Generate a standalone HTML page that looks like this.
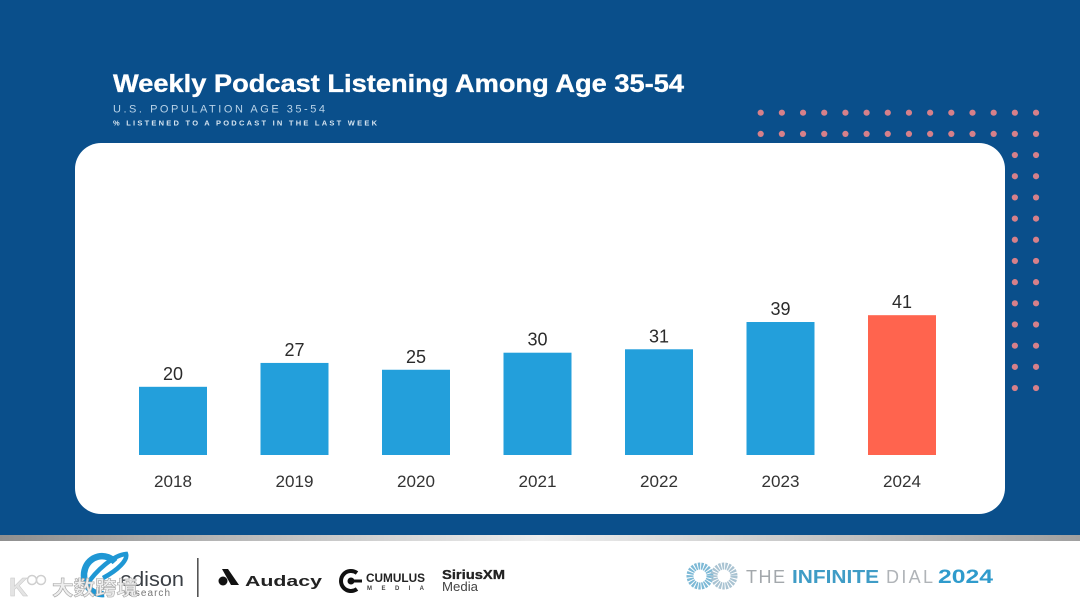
<!DOCTYPE html>
<html lang="en">
<head>
<meta charset="utf-8">
<title>Weekly Podcast Listening Among Age 35-54</title>
<style>
html,body{margin:0;padding:0;width:1080px;height:608px;overflow:hidden;background:#fff}
svg{display:block}
text{font-family:"Liberation Sans","Noto Sans CJK SC",sans-serif}
</style>
</head>
<body>
<svg id="slide" xmlns="http://www.w3.org/2000/svg" width="1080" height="608" viewBox="0 0 1080 608">
  <defs>
    <linearGradient id="bandGrad" x1="0" x2="1" y1="0" y2="0">
      <stop offset="0" stop-color="#8f8f8f"/>
      <stop offset="0.5" stop-color="#eeeeee"/>
      <stop offset="1" stop-color="#a0a0a0"/>
    </linearGradient>
  </defs>
  <rect x="0" y="0" width="1080" height="535" fill="#0a4f8b"/>
  <rect x="0" y="535" width="1080" height="6" fill="url(#bandGrad)"/>
  <rect x="0" y="541" width="1080" height="67" fill="#ffffff"/>

  <g id="dots"></g>

  <rect x="75" y="143" width="930" height="371" rx="26" ry="26" fill="#ffffff"/>

  <text x="113" y="92" font-size="25" font-weight="700" fill="#ffffff" stroke="#ffffff" stroke-width="0.35" textLength="571" lengthAdjust="spacingAndGlyphs">Weekly Podcast Listening Among Age 35-54</text>
  <text x="113" y="112.5" font-size="11" fill="#b9d3e8" textLength="212" lengthAdjust="spacing">U.S. POPULATION AGE 35-54</text>
  <text x="113" y="125.5" font-size="7.5" font-weight="700" fill="#d5e4f0" textLength="264" lengthAdjust="spacing">% LISTENED TO A PODCAST IN THE LAST WEEK</text>

  <g id="bars"></g>
  <g id="valueLabels"></g>
  <g id="xLabels"></g>

  <g>
    <path d="M115 562 A18 19 0 1 0 104 594" fill="none" stroke="#1f97d4" stroke-width="6.5"/>
    <path d="M86 586 C96 570 114 555 126 554 C128 560 118 570 103 578" fill="none" stroke="#1f97d4" stroke-width="4.5"/>
    <text x="120" y="586" font-size="20" fill="#3a3f45" textLength="64" lengthAdjust="spacingAndGlyphs">edison</text>
    <text x="124" y="596" font-size="10" fill="#777" textLength="46" lengthAdjust="spacing">research</text>
  </g>
  <rect x="197" y="558" width="1.6" height="39" fill="#555"/>

  <g>
    <circle cx="223" cy="581" r="4.5" fill="#111"/>
    <path d="M222 569 L228 569 L239 585 L231 585 Z" fill="#111"/>
    <text x="245" y="586" font-size="15" font-weight="700" fill="#222" textLength="77" lengthAdjust="spacingAndGlyphs">Audacy</text>
  </g>

  <g>
    <path d="M357 573 A10 10 0 1 0 357 589" fill="none" stroke="#111" stroke-width="4"/>
    <circle cx="351" cy="581" r="3.5" fill="#111"/>
    <rect x="351" y="579.5" width="11" height="3" fill="#111"/>
    <text x="366" y="582" font-size="11.5" font-weight="700" fill="#222" textLength="59" lengthAdjust="spacingAndGlyphs">CUMULUS</text>
    <text x="367" y="590" font-size="6" font-weight="700" fill="#444" textLength="57">M E D I A</text>
  </g>

  <g>
    <text x="442" y="579" font-size="12.5" font-weight="700" fill="#222" stroke="#222" stroke-width="0.3" textLength="63" lengthAdjust="spacingAndGlyphs">SiriusXM</text>
    <text x="442" y="591" font-size="13" fill="#444" textLength="36" lengthAdjust="spacingAndGlyphs">Media</text>
  </g>

  <g>
    <circle cx="700" cy="576" r="10" fill="none" stroke="#7db9d6" stroke-width="7" stroke-dasharray="2 1"/>
    <circle cx="724" cy="576" r="10" fill="none" stroke="#a9c3d2" stroke-width="7" stroke-dasharray="2 1"/>
    <text x="746" y="583" font-size="18" fill="#a3a8ac" textLength="39" lengthAdjust="spacing">THE</text>
    <text x="792" y="583" font-size="18" font-weight="700" fill="#3f9cc6" textLength="87" lengthAdjust="spacingAndGlyphs">INFINITE</text>
    <text x="886" y="583" font-size="18" fill="#b0b4b8" textLength="47" lengthAdjust="spacing">DIAL</text>
    <text x="938" y="583" font-size="19" font-weight="700" fill="#2f9bcc" textLength="55" lengthAdjust="spacingAndGlyphs">2024</text>
  </g>

  <g>
    <text x="9" y="596" font-size="26" font-weight="700" fill="#e4e4e4" stroke="#c4c4c4" stroke-width="0.5">K</text>
    <circle cx="32" cy="580" r="4.5" fill="#ffffff" stroke="#cfcfcf" stroke-width="1.5"/>
    <circle cx="41" cy="580" r="4.5" fill="#ffffff" stroke="#cfcfcf" stroke-width="1.5"/>
    <text x="52" y="595" font-size="20" font-weight="700" fill="#eeeeee" stroke="#a8a8a8" stroke-width="0.6" textLength="86" lengthAdjust="spacingAndGlyphs" style='font-family:"Noto Sans CJK SC",sans-serif'>大数跨境</text>
  </g>
</svg>
<script>
const categories = ["2018", "2019", "2020", "2021", "2022", "2023", "2024"];
const seriesValues = [20, 27, 25, 30, 31, 39, 41];
const highlightCategory = "2024";

const SVG_NS = "http://www.w3.org/2000/svg";
const baselineY = 455;
const pxPerUnit = 3.41;
const barWidth = 68;
const firstCenter = 173;
const bandStep = 121.5;

function xCenter(index) { return firstCenter + bandStep * index; }
function yScale(value) { return baselineY - value * pxPerUnit; }

const barsGroup = document.getElementById("bars");
const valueGroup = document.getElementById("valueLabels");
const xGroup = document.getElementById("xLabels");

categories.forEach(function (category, i) {
  const value = seriesValues[i];
  const cx = xCenter(i);
  const top = yScale(value);

  const bar = document.createElementNS(SVG_NS, "rect");
  bar.setAttribute("x", cx - barWidth / 2);
  bar.setAttribute("y", top);
  bar.setAttribute("width", barWidth);
  bar.setAttribute("height", baselineY - top);
  bar.setAttribute("fill", category === highlightCategory ? "#ff644e" : "#239fdb");
  
  
  barsGroup.appendChild(bar);

  const label = document.createElementNS(SVG_NS, "text");
  label.setAttribute("x", cx);
  label.setAttribute("y", top - 7);
  label.setAttribute("text-anchor", "middle");
  label.setAttribute("font-size", "18");
  label.setAttribute("fill", "#2b2b2b");
  label.textContent = String(value);
  
  
  valueGroup.appendChild(label);

  const tick = document.createElementNS(SVG_NS, "text");
  tick.setAttribute("x", cx);
  tick.setAttribute("y", 487);
  tick.setAttribute("text-anchor", "middle");
  tick.setAttribute("font-size", "17");
  tick.setAttribute("fill", "#333333");
  tick.setAttribute("textLength", "38");
  tick.setAttribute("lengthAdjust", "spacingAndGlyphs");
  tick.textContent = category;
  
  
  xGroup.appendChild(tick);
});

const dotsGroup = document.getElementById("dots");
for (let row = 0; row < 14; row++) {
  for (let col = 0; col < 14; col++) {
    if (row >= 2 && col < 12) continue;
    const dot = document.createElementNS(SVG_NS, "circle");
    dot.setAttribute("cx", 760.7 + col * 21.18);
    dot.setAttribute("cy", 112.7 + row * 21.18);
    dot.setAttribute("r", 3.1);
    dot.setAttribute("fill", "#d6808a");
    
    
    dotsGroup.appendChild(dot);
  }
}
</script>
</body>
</html>
